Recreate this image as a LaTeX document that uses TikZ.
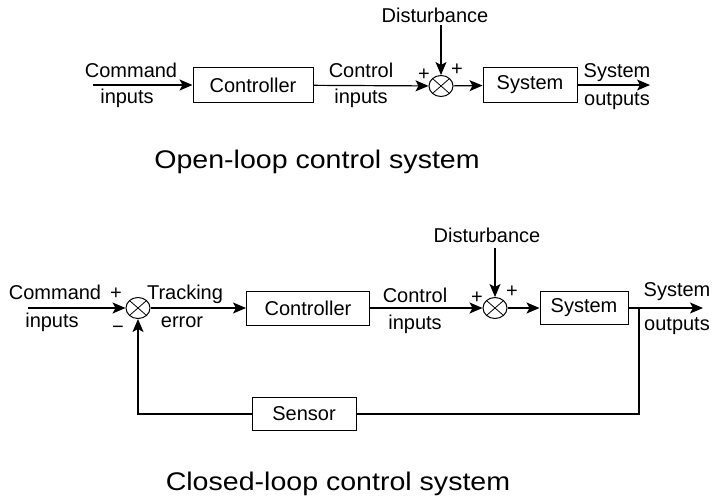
\documentclass[tikz,border=0pt]{standalone}
\usepackage{fontspec}
\setmainfont{Liberation Sans}
\newfontfamily\capfont{Liberation Sans}[FakeStretch=1.12]
\usetikzlibrary{arrows.meta,shapes.geometric}
\begin{document}
\begin{tikzpicture}[x=1pt,y=-1pt,
  line width=1.2pt,
  >={Stealth[length=13pt,width=11pt,inset=3pt]},
  block/.style={draw, line width=1pt, minimum height=35pt, inner sep=0pt, font=\fontsize{20}{24}\selectfont},
  sumc/.style={draw, ellipse, minimum width=24pt, minimum height=21pt, inner sep=0pt, line width=1pt,
    path picture={\draw[line width=0.8pt] (path picture bounding box.north west)--(path picture bounding box.south east)
      (path picture bounding box.north east)--(path picture bounding box.south west);}},
  lbl/.style={anchor=base, inner sep=0pt, font=\fontsize{20}{24}\selectfont},
  sgn/.style={inner sep=0pt, font=\fontsize{20}{24}\selectfont},
  captext/.style={anchor=base, inner sep=0pt, font=\capfont\fontsize{25.5}{30}\selectfont},
]
\useasboundingbox (0,0) rectangle (719,499);

% ---------- open loop ----------
\coordinate (c1) at (93,85);
\node[block, minimum width=120pt] (ctrl1) at (253,85) {Controller};
\node[sumc] (s1) at (441,86) {};
\node[block, minimum width=94pt] (sys1) at (530,85) {System};
\coordinate (o1) at (650,85);
\coordinate (d1) at (441,25);
\draw[->] (c1) -- (ctrl1);
\draw[->] (ctrl1) -- (s1);
\draw[->] (s1) -- (sys1);
\draw[->] (sys1) -- (o1);
\draw[->] (d1) -- (s1);

\node[lbl] (t1cmd) at (131,77) {Command};
\node[lbl] (t1inp) at (127,103) {inputs};
\node[lbl] (t1ctl) at (361,77) {Control};
\node[lbl] (t1ci) at (361,103) {inputs};
\node[lbl] (t1dist) at (435,22) {Disturbance};
\node[lbl] (t1sys) at (617,77) {System};
\node[lbl] (t1out) at (617,105) {outputs};
\node[sgn] (t1p1) at (424,75) {+};
\node[sgn] (t1p2) at (457,70) {+};
\node[captext] (cap1) at (317,168) {Open-loop control system};

% ---------- closed loop ----------
\coordinate (c2) at (28,308);
\node[sumc] (s0) at (138,308) {};
\node[block, minimum width=123pt, minimum height=34pt] (ctrl2) at (308,308) {Controller};
\node[sumc] (s2) at (495,308) {};
\node[block, minimum width=88pt, minimum height=33pt] (sys2) at (584,308) {System};
\coordinate (o2) at (703,308);
\coordinate (tap) at (639,308);
\node[block, minimum width=104pt, minimum height=33pt] (sens) at (304,414) {Sensor};
\coordinate (d2) at (495,248);
\draw[->] (c2) -- (s0);
\draw[->] (s0) -- (ctrl2);
\draw[->] (ctrl2) -- (s2);
\draw[->] (s2) -- (sys2);
\draw[->] (sys2) -- (o2);
\draw[->] (d2) -- (s2);
\draw (tap) |- (sens);
\draw[->] (sens) -| (s0);

\node[lbl] (t2cmd) at (55,299) {Command};
\node[lbl] (t2inp) at (52,327) {inputs};
\node[lbl] (t2trk) at (185,299) {Tracking};
\node[lbl] (t2err) at (182,327) {error};
\node[lbl] (t2ctl) at (415,302) {Control};
\node[lbl] (t2ci) at (415,329) {inputs};
\node[lbl] (t2dist) at (487,242) {Disturbance};
\node[lbl] (t2sys) at (677,296) {System};
\node[lbl] (t2out) at (677,330) {outputs};
\node[sgn] (t2p0) at (116,294) {+};
\node[sgn] (t2m0) at (118,330) {−};
\node[sgn] (t2p1) at (477,298) {+};
\node[sgn] (t2p2) at (512,292) {+};
\node[captext] (cap2) at (338,490) {Closed-loop control system};
\end{tikzpicture}
\end{document}
